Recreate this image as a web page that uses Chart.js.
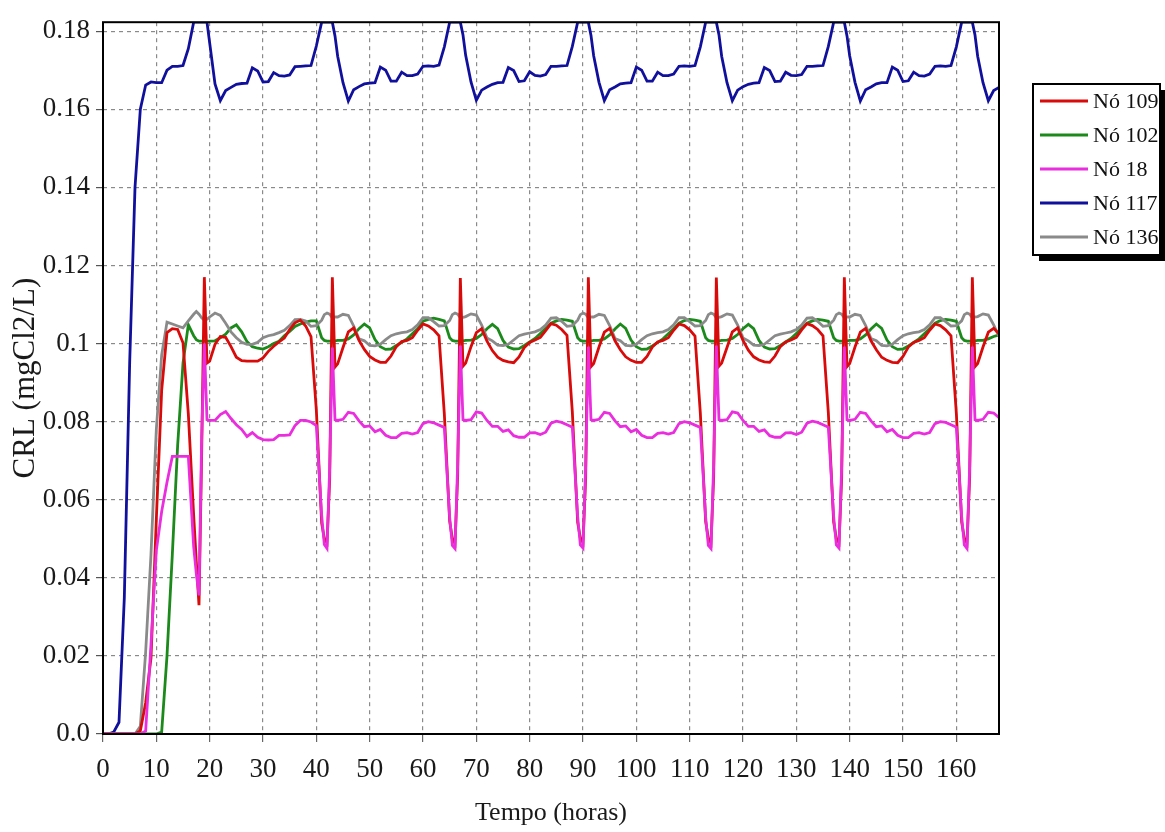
<!DOCTYPE html>
<html lang="pt">
<head>
<meta charset="UTF-8">
<title>CRL nos nós</title>
<script src="https://cdn.jsdelivr.net/npm/chart.js"></script>
<style>
  body { margin: 0; background: #fff; }
  #wrap { width: 1165px; height: 832px; }
</style>
</head>
<body>
<div id="wrap"><canvas id="crlChart" width="1165" height="832"></canvas></div>
<script>
// tempo (horas) - hourly, with half hours around each daily spike
const hours = [
  0,1,2,3,4,5,6,7,8,9,10,11,12,13,
  14,15,16,17,17.5,18,18.5,19,19.5,20,21,22,23,24,25,26,27,28,29,30,31,32,33,34,35,36,37,
  38,39,40,41,41.5,42,42.5,43,43.5,44,45,46,47,48,49,50,51,52,53,54,55,56,57,58,59,60,61,
  62,63,64,65,65.5,66,66.5,67,67.5,68,69,70,71,72,73,74,75,76,77,78,79,80,81,82,83,84,85,
  86,87,88,89,89.5,90,90.5,91,91.5,92,93,94,95,96,97,98,99,100,101,102,103,104,105,106,107,108,109,
  110,111,112,113,113.5,114,114.5,115,115.5,116,117,118,119,120,121,122,123,124,125,126,127,128,129,130,131,132,133,
  134,135,136,137,137.5,138,138.5,139,139.5,140,141,142,143,144,145,146,147,148,149,150,151,152,153,154,155,156,157,
  158,159,160,161,161.5,162,162.5,163,163.5,164,165,166,167,168
];

const no109 = [
  0,0,0,0,0,0,0,0.0008,0.0080,0.0195,0.0550,0.0880,0.1028,0.1038,
  0.1036,0.1002,0.0820,0.0560,0.0440,0.0330,0.0720,0.1170,0.0950,0.0955,0.0998,0.1018,0.1016,0.0992,0.0965,0.0956,0.0955,0.0955,0.0955,0.0963,0.0980,0.0993,0.1004,0.1014,0.1036,0.1053,0.1060,
  0.1045,0.1018,0.0830,0.0540,0.0500,0.0490,0.0650,0.1170,0.0940,0.0948,0.0990,0.1030,0.1040,0.1008,0.0985,0.0967,0.0958,0.0952,0.0952,0.0968,0.0992,0.1005,0.1008,0.1015,0.1034,0.1050,0.1045,
  0.1035,0.1020,0.0820,0.0545,0.0500,0.0488,0.0660,0.1168,0.0942,0.0950,0.0992,0.1028,0.1038,0.1006,0.0982,0.0965,0.0957,0.0953,0.0951,0.0966,0.0990,0.1003,0.1009,0.1016,0.1033,0.1051,0.1047,
  0.1036,0.1021,0.0825,0.0542,0.0502,0.0490,0.0655,0.1170,0.0941,0.0949,0.0991,0.1029,0.1039,0.1007,0.0984,0.0966,0.0957,0.0952,0.0952,0.0967,0.0991,0.1004,0.1008,0.1015,0.1034,0.1050,0.1046,
  0.1035,0.1019,0.0822,0.0544,0.0501,0.0489,0.0658,0.1169,0.0942,0.0950,0.0990,0.1030,0.1040,0.1008,0.0983,0.0966,0.0958,0.0953,0.0952,0.0968,0.0992,0.1004,0.1009,0.1016,0.1035,0.1051,0.1046,
  0.1036,0.1020,0.0823,0.0543,0.0500,0.0490,0.0656,0.1170,0.0941,0.0949,0.0991,0.1029,0.1039,0.1007,0.0984,0.0965,0.0957,0.0952,0.0951,0.0967,0.0991,0.1003,0.1008,0.1015,0.1034,0.1050,0.1046,
  0.1035,0.1020,0.0822,0.0543,0.0501,0.0489,0.0657,0.1170,0.0941,0.0949,0.0991,0.1029,0.1039,0.1025
];

const no102 = [
  0,0,0,0,0,0,0,0,0,0,0,0.0005,0.0200,0.0460,
  0.0740,0.0950,0.1048,0.1020,0.1010,0.1006,0.1006,0.1006,0.1006,0.1006,0.1007,0.1015,0.1024,0.1040,0.1048,0.1030,0.1005,0.0992,0.0988,0.0986,0.0992,0.1000,0.1006,0.1020,0.1031,0.1044,0.1050,
  0.1055,0.1058,0.1058,0.1015,0.1008,0.1006,0.1006,0.1006,0.1007,0.1008,0.1008,0.1012,0.1022,0.1038,0.1050,0.1040,0.1010,0.0992,0.0985,0.0986,0.0995,0.1003,0.1012,0.1025,0.1038,0.1057,0.1062,
  0.1065,0.1062,0.1058,0.1015,0.1008,0.1006,0.1006,0.1006,0.1007,0.1008,0.1009,0.1013,0.1023,0.1038,0.1049,0.1038,0.1008,0.0991,0.0986,0.0987,0.0995,0.1004,0.1013,0.1026,0.1039,0.1052,0.1058,
  0.1062,0.1060,0.1057,0.1015,0.1008,0.1006,0.1006,0.1006,0.1007,0.1008,0.1008,0.1012,0.1022,0.1037,0.1050,0.1039,0.1009,0.0992,0.0985,0.0986,0.0994,0.1003,0.1012,0.1025,0.1038,0.1052,0.1059,
  0.1062,0.1060,0.1057,0.1015,0.1008,0.1006,0.1006,0.1006,0.1007,0.1008,0.1009,0.1013,0.1023,0.1038,0.1049,0.1038,0.1008,0.0991,0.0986,0.0987,0.0995,0.1004,0.1013,0.1026,0.1039,0.1052,0.1058,
  0.1062,0.1060,0.1057,0.1015,0.1008,0.1006,0.1006,0.1006,0.1007,0.1008,0.1008,0.1012,0.1022,0.1037,0.1050,0.1039,0.1009,0.0992,0.0985,0.0986,0.0994,0.1003,0.1012,0.1025,0.1038,0.1052,0.1059,
  0.1062,0.1060,0.1057,0.1015,0.1008,0.1006,0.1006,0.1006,0.1007,0.1008,0.1008,0.1012,0.1018,0.1022
];

const no18 = [
  0,0,0,0,0,0,0,0,0.0008,0.0230,0.0470,0.0570,0.0645,0.0711,
  0.0711,0.0711,0.0711,0.0480,0.0410,0.0355,0.0760,0.1000,0.0805,0.0803,0.0803,0.0818,0.0826,0.0808,0.0792,0.0780,0.0762,0.0772,0.0760,0.0754,0.0753,0.0754,0.0765,0.0765,0.0766,0.0790,0.0803,
  0.0803,0.0799,0.0790,0.0560,0.0485,0.0475,0.0680,0.0990,0.0805,0.0803,0.0806,0.0824,0.0821,0.0802,0.0787,0.0789,0.0774,0.0780,0.0765,0.0759,0.0759,0.0770,0.0772,0.0768,0.0772,0.0795,0.0800,
  0.0797,0.0791,0.0785,0.0555,0.0483,0.0475,0.0690,0.0995,0.0805,0.0803,0.0805,0.0825,0.0822,0.0803,0.0788,0.0788,0.0775,0.0779,0.0764,0.0760,0.0760,0.0771,0.0772,0.0767,0.0773,0.0796,0.0801,
  0.0798,0.0792,0.0786,0.0557,0.0484,0.0476,0.0685,0.0992,0.0805,0.0803,0.0806,0.0824,0.0821,0.0802,0.0787,0.0789,0.0774,0.0780,0.0765,0.0759,0.0759,0.0770,0.0772,0.0768,0.0772,0.0795,0.0800,
  0.0797,0.0791,0.0785,0.0555,0.0483,0.0475,0.0690,0.0995,0.0805,0.0803,0.0805,0.0825,0.0822,0.0803,0.0788,0.0788,0.0775,0.0779,0.0764,0.0760,0.0760,0.0771,0.0772,0.0767,0.0773,0.0796,0.0801,
  0.0798,0.0792,0.0786,0.0557,0.0484,0.0476,0.0685,0.0992,0.0805,0.0803,0.0806,0.0824,0.0821,0.0802,0.0787,0.0789,0.0774,0.0780,0.0765,0.0759,0.0759,0.0770,0.0772,0.0768,0.0772,0.0795,0.0800,
  0.0798,0.0792,0.0786,0.0556,0.0484,0.0475,0.0685,0.0992,0.0805,0.0803,0.0806,0.0824,0.0822,0.0810
];

const no117 = [
  0,0,0.0005,0.0030,0.0350,0.0950,0.1400,0.1600,0.1662,0.1670,0.1668,0.1668,0.1700,0.1710,
  0.1710,0.1712,0.1755,0.1823,0.1823,0.1823,0.1823,0.1823,0.1823,0.1770,0.1665,0.1622,0.1648,0.1656,0.1664,0.1666,0.1667,0.1706,0.1698,0.1670,0.1671,0.1694,0.1686,0.1685,0.1688,0.1709,0.1710,
  0.1711,0.1712,0.1762,0.1823,0.1823,0.1823,0.1823,0.1823,0.1788,0.1736,0.1668,0.1621,0.1650,0.1658,0.1665,0.1667,0.1668,0.1708,0.1700,0.1672,0.1672,0.1695,0.1686,0.1686,0.1690,0.1710,0.1711,
  0.1710,0.1713,0.1760,0.1823,0.1823,0.1823,0.1823,0.1823,0.1790,0.1738,0.1670,0.1623,0.1649,0.1657,0.1664,0.1668,0.1669,0.1707,0.1699,0.1671,0.1673,0.1696,0.1687,0.1685,0.1689,0.1710,0.1710,
  0.1711,0.1712,0.1761,0.1823,0.1823,0.1823,0.1823,0.1823,0.1789,0.1737,0.1669,0.1622,0.1650,0.1657,0.1665,0.1667,0.1668,0.1708,0.1700,0.1672,0.1672,0.1695,0.1686,0.1686,0.1690,0.1710,0.1711,
  0.1710,0.1712,0.1760,0.1823,0.1823,0.1823,0.1823,0.1823,0.1790,0.1736,0.1668,0.1622,0.1649,0.1658,0.1664,0.1667,0.1668,0.1707,0.1699,0.1671,0.1672,0.1695,0.1687,0.1686,0.1689,0.1710,0.1710,
  0.1711,0.1712,0.1761,0.1823,0.1823,0.1823,0.1823,0.1823,0.1788,0.1737,0.1669,0.1621,0.1650,0.1657,0.1665,0.1668,0.1668,0.1708,0.1700,0.1671,0.1673,0.1695,0.1686,0.1685,0.1690,0.1710,0.1711,
  0.1710,0.1712,0.1760,0.1823,0.1823,0.1823,0.1823,0.1823,0.1790,0.1736,0.1668,0.1622,0.1648,0.1656
];

const no136 = [
  0,0,0,0,0,0,0,0.0020,0.0210,0.0460,0.0780,0.0970,0.1055,0.1050,
  0.1045,0.1040,0.1058,0.1075,0.1082,0.1075,0.1066,0.1060,0.1062,0.1068,0.1078,0.1072,0.1052,0.1030,0.1015,0.1003,0.0998,0.0998,0.1003,0.1015,0.1020,0.1023,0.1028,0.1034,0.1046,0.1061,0.1062,
  0.1058,0.1044,0.1046,0.1060,0.1074,0.1078,0.1075,0.1066,0.1068,0.1068,0.1075,0.1072,0.1045,0.1012,0.1007,0.0995,0.0994,0.0998,0.1010,0.1020,0.1025,0.1028,0.1030,0.1036,0.1048,0.1066,0.1066,
  0.1056,0.1045,0.1046,0.1059,0.1074,0.1078,0.1075,0.1066,0.1067,0.1069,0.1076,0.1073,0.1047,0.1014,0.1007,0.0996,0.0995,0.0998,0.1009,0.1020,0.1024,0.1027,0.1030,0.1036,0.1047,0.1065,0.1066,
  0.1057,0.1044,0.1046,0.1060,0.1074,0.1078,0.1075,0.1066,0.1068,0.1068,0.1075,0.1072,0.1046,0.1013,0.1007,0.0995,0.0994,0.0998,0.1010,0.1020,0.1025,0.1028,0.1030,0.1036,0.1048,0.1066,0.1066,
  0.1056,0.1045,0.1046,0.1059,0.1074,0.1078,0.1075,0.1066,0.1067,0.1069,0.1076,0.1073,0.1047,0.1014,0.1007,0.0996,0.0995,0.0998,0.1009,0.1020,0.1024,0.1027,0.1030,0.1036,0.1047,0.1065,0.1066,
  0.1057,0.1044,0.1046,0.1060,0.1074,0.1078,0.1075,0.1066,0.1068,0.1068,0.1075,0.1072,0.1046,0.1013,0.1007,0.0995,0.0994,0.0998,0.1010,0.1020,0.1025,0.1028,0.1030,0.1036,0.1048,0.1066,0.1066,
  0.1056,0.1045,0.1046,0.1058,0.1074,0.1078,0.1075,0.1066,0.1068,0.1069,0.1076,0.1073,0.1048,0.1018
];

const seriesNames = ['Nó 109', 'Nó 102', 'Nó 18', 'Nó 117', 'Nó 136'];
const seriesColors = ['#d80a0a', '#1b8a1b', '#ea2ede', '#10109c', '#8a8a8a'];
const seriesValues = [no109, no102, no18, no117, no136];
const drawOrder = [1, 3, 0, 4, 2]; // magenta on top, then red
const yTickLabels = ['0.0', '0.02', '0.04', '0.06', '0.08', '0.1', '0.12', '0.14', '0.16', '0.18'];

const serif = '"Liberation Serif", "DejaVu Serif", serif';

// black frame around the plot area
const frame = {
  id: 'frame',
  afterDatasetsDraw(chart) {
    const { ctx, chartArea: a } = chart;
    ctx.save();
    ctx.strokeStyle = '#000';
    ctx.lineWidth = 2;
    ctx.strokeRect(a.left, a.top, a.right - a.left, a.bottom - a.top);
    ctx.restore();
  }
};

// boxed legend with drop shadow, like the original software
const boxLegend = {
  id: 'boxLegend',
  afterDraw(chart) {
    const ctx = chart.ctx;
    const left = chart.chartArea.right + 34;
    const top = 84, w = 127, h = 171;
    ctx.save();
    ctx.fillStyle = '#000';
    ctx.fillRect(left + 6, top + 6, w, h);
    ctx.fillStyle = '#fff';
    ctx.fillRect(left, top, w, h);
    ctx.strokeStyle = '#000';
    ctx.lineWidth = 2;
    ctx.strokeRect(left, top, w, h);
    ctx.font = '22px ' + serif;
    ctx.textBaseline = 'middle';
    chart.data.datasets.forEach((ds, i) => {
      const y = top + 17 + i * 34;
      ctx.strokeStyle = ds.borderColor;
      ctx.lineWidth = 3;
      ctx.beginPath();
      ctx.moveTo(left + 7, y);
      ctx.lineTo(left + 55, y);
      ctx.stroke();
      ctx.fillStyle = '#111';
      ctx.fillText(ds.label, left + 60, y + 1);
    });
    ctx.restore();
  }
};

const datasets = seriesNames.map((name, i) => ({
  label: name,
  data: seriesValues[i].map((v, j) => ({ x: hours[j], y: v })),
  borderColor: seriesColors[i],
  backgroundColor: seriesColors[i],
  borderWidth: 2.8,
  pointRadius: 0,
  tension: 0,
  fill: false,
  order: drawOrder[i]
}));

new Chart(document.getElementById('crlChart'), {
  type: 'line',
  data: { datasets },
  options: {
    responsive: false,
    animation: false,
    layout: { padding: { top: 14, right: 166, bottom: 0, left: 0 } },
    plugins: {
      legend: { display: false },
      tooltip: { enabled: false }
    },
    scales: {
      x: {
        type: 'linear',
        min: 0,
        max: 168,
        afterFit: (scale) => { scale.height = 98; },
        ticks: {
          stepSize: 10,
          includeBounds: false,
          padding: 12,
          color: '#1a1a1a',
          font: { family: serif, size: 27 }
        },
        grid: { color: '#8a8a8a', lineWidth: 1.2, tickLength: 8, tickColor: '#666' },
        border: { display: false, dash: [4, 4] },
        title: {
          display: true,
          text: 'Tempo (horas)',
          color: '#1a1a1a',
          font: { family: serif, size: 26 },
          padding: { top: 4, bottom: 3 }
        }
      },
      y: {
        min: 0,
        max: 0.1823,
        afterFit: (scale) => { scale.width = 103; },
        ticks: {
          stepSize: 0.02,
          includeBounds: false,
          padding: 6,
          color: '#1a1a1a',
          font: { family: serif, size: 27 },
          callback: (value, index) => yTickLabels[index]
        },
        grid: { color: '#8a8a8a', lineWidth: 1.2, tickLength: 7, tickColor: '#555' },
        border: { display: false, dash: [4, 4] },
        title: {
          display: true,
          text: 'CRL (mgCl2/L)',
          color: '#1a1a1a',
          font: { family: serif, size: 31 },
          padding: { top: 7, bottom: 0 }
        }
      }
    }
  },
  plugins: [frame, boxLegend]
});
</script>
</body>
</html>
